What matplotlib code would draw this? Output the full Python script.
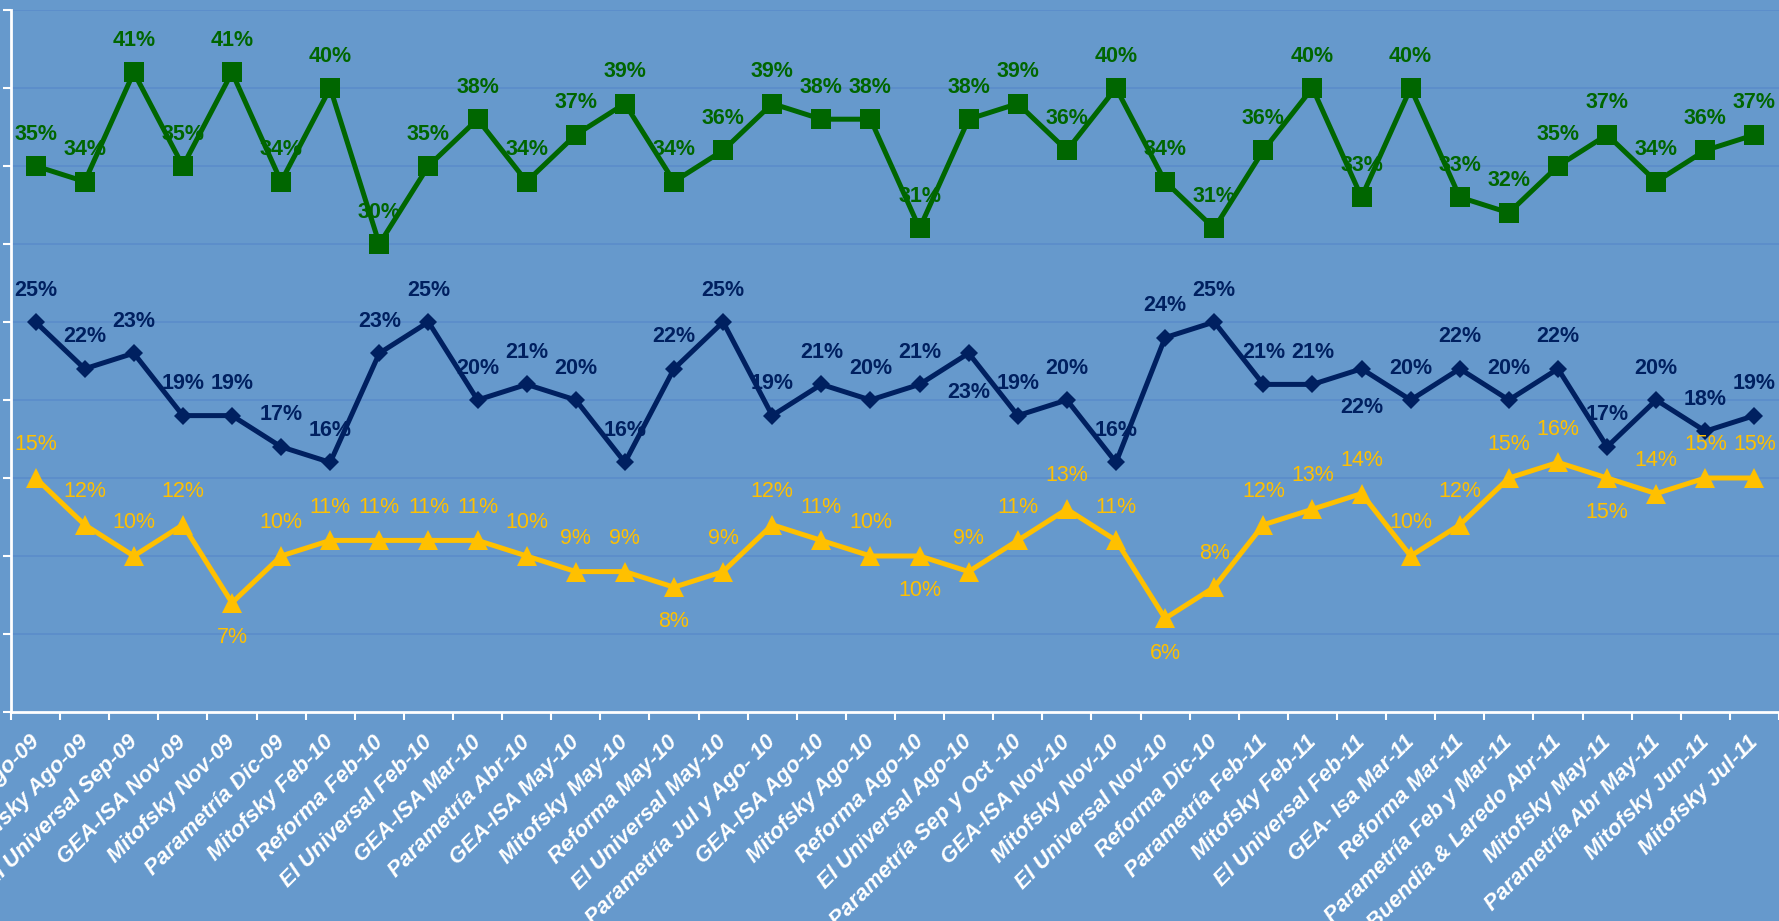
import numpy as np
import matplotlib
matplotlib.use("Agg")
import matplotlib.pyplot as plt
from matplotlib.transforms import ScaledTranslation

plt.rcParams['font.family'] = ['Liberation Sans', 'DejaVu Sans']

# encuestas (eje x)
encuestas = ["Reforma Ago-09", "Mitofsky Ago-09", "El Universal Sep-09", "GEA-ISA Nov-09",
             "Mitofsky Nov-09", "Parametría Dic-09", "Mitofsky Feb-10", "Reforma Feb-10",
             "El Universal Feb-10", "GEA-ISA Mar-10", "Parametría Abr-10", "GEA-ISA May-10",
             "Mitofsky May-10", "Reforma May-10", "El Universal May-10", "Parametría Jul y Ago- 10",
             "GEA-ISA Ago-10", "Mitofsky Ago-10", "Reforma Ago-10", "El Universal Ago-10",
             "Parametría Sep y Oct -10", "GEA-ISA Nov-10", "Mitofsky Nov-10", "El Universal Nov-10",
             "Reforma Dic-10", "Parametría Feb-11", "Mitofsky Feb-11", "El Universal Feb-11",
             "GEA- Isa Mar-11", "Reforma Mar-11", "Parametría Feb y Mar-11", "Buendia & Laredo Abr-11",
             "Mitofsky May-11", "Parametría Abr May-11", "Mitofsky Jun-11", "Mitofsky Jul-11"]

verde = [35, 34, 41, 35, 41, 34, 40, 30, 35, 38, 34, 37, 39, 34, 36, 39, 38, 38,
         31, 38, 39, 36, 40, 34, 31, 36, 40, 33, 40, 33, 32, 35, 37, 34, 36, 37]
azul = [25, 22, 23, 19, 19, 17, 16, 23, 25, 20, 21, 20, 16, 22, 25, 19, 21, 20,
        21, 23, 19, 20, 16, 24, 25, 21, 21, 22, 20, 22, 20, 22, 17, 20, 18, 19]
amarillo = [15, 12, 10, 12, 7, 10, 11, 11, 11, 11, 10, 9, 9, 8, 9, 12, 11, 10,
            10, 9, 11, 13, 11, 6, 8, 12, 13, 14, 10, 12, 15, 16, 15, 14, 15, 15]

# etiquetas que van debajo del punto
azul_abajo = [19, 27]
amarillo_abajo = [4, 13, 18, 23, 32]

bg = '#6699CC'
c_verde = '#006600'
c_azul = '#002060'
c_amarillo = '#FFC000'

fig = plt.figure(figsize=(17.79, 9.21), dpi=100, facecolor=bg)
ax = fig.add_axes([11 / 1779, 1 - 712 / 921, 1 - 11 / 1779, 702 / 921])
ax.set_facecolor(bg)

x = np.arange(len(encuestas))
ax.plot(x, np.array(verde) / 100, color=c_verde, lw=3.6, marker='s', ms=14.2, mew=0, zorder=3)
ax.plot(x, np.array(azul) / 100, color=c_azul, lw=3.6, marker='D', ms=9.6, mew=0, zorder=3)
ax.plot(x, np.array(amarillo) / 100, color=c_amarillo, lw=3.6, marker='^', ms=14, mew=0, zorder=3)

for i in x:
    ax.annotate(f"{verde[i]}%", (i, verde[i] / 100), xytext=(0, 23), textcoords='offset points',
                ha='center', va='center', fontsize=15.5, fontweight='bold', color=c_verde, zorder=4)
    dy = -28 if i in azul_abajo else 23
    ax.annotate(f"{azul[i]}%", (i, azul[i] / 100), xytext=(0, dy), textcoords='offset points',
                ha='center', va='center', fontsize=15.5, fontweight='bold', color=c_azul, zorder=4)
    dy = -25 if i in amarillo_abajo else 24
    ax.annotate(f"{amarillo[i]}%", (i, amarillo[i] / 100), xytext=(0, dy), textcoords='offset points',
                ha='center', va='center', fontsize=15.5, color=c_amarillo, zorder=4)

ax.set_xlim(-0.5, len(encuestas) - 0.5)
ax.set_ylim(0, 0.45)
ax.set_yticks(np.arange(0, 0.46, 0.05))
ax.set_yticklabels([])
ax.yaxis.grid(True, color='#5B8CCA', lw=1.2)
ax.set_axisbelow(True)

ax.set_xticks(x)
ax.set_xticklabels(encuestas, rotation=45, ha='right', rotation_mode='anchor',
                   fontsize=16, fontweight='bold', fontstyle='italic', color='white')
ax.set_xticks(np.arange(-0.5, len(encuestas), 1), minor=True)
ax.tick_params(axis='x', which='major', length=0, pad=14)
ax.tick_params(axis='x', which='minor', length=6, width=1.5, color='white')
ax.tick_params(axis='y', length=6, width=1.5, color='white')
for lab in ax.get_xticklabels():
    lab.set_transform(lab.get_transform() + ScaledTranslation(-5 / 72, 0, fig.dpi_scale_trans))

for s in ['top', 'right']:
    ax.spines[s].set_visible(False)
for s in ['left', 'bottom']:
    ax.spines[s].set_color('white')
    ax.spines[s].set_linewidth(2)

fig.savefig('out.png', dpi=100, facecolor=bg)
